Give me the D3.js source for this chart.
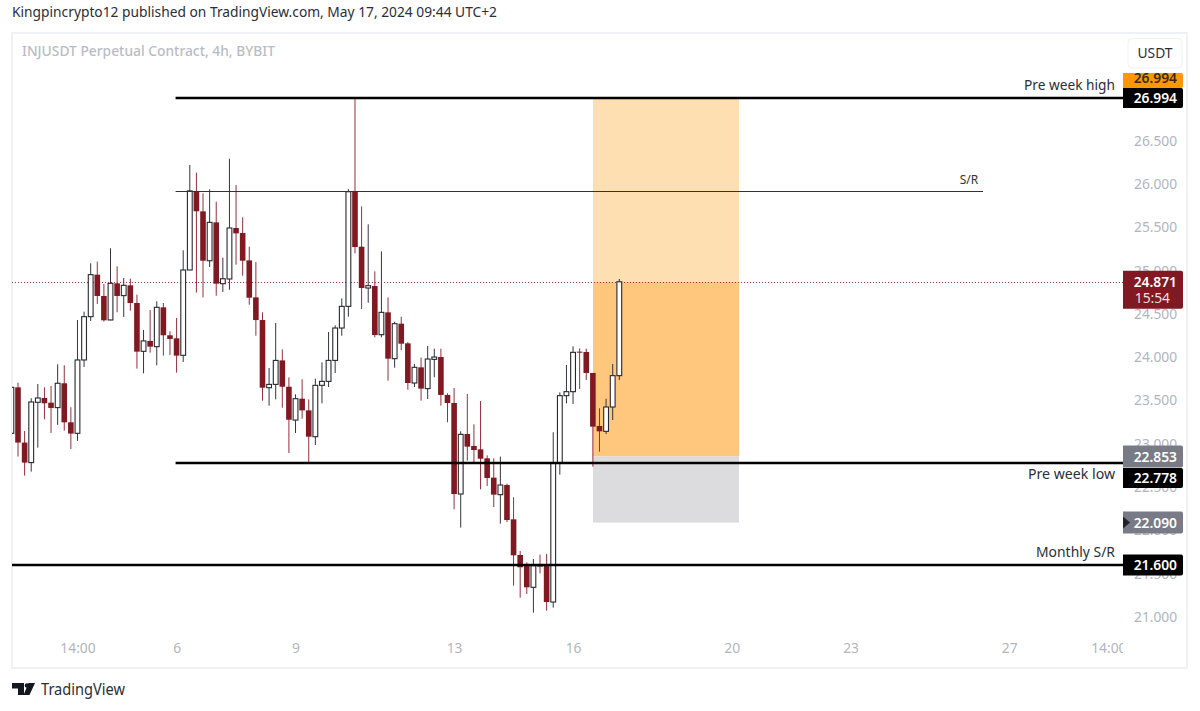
<!DOCTYPE html>
<html>
<head>
<meta charset="utf-8">
<script src="https://cdn.jsdelivr.net/npm/d3@7"></script>
<style>
  html, body { margin: 0; padding: 0; background: #fff; }
  svg { display: block; }
</style>
</head>
<body>
<script>
// 4h candles (first bar is cut by the left edge)
const opens = [23.121,23.652,23.014,22.783,23.479,23.529,23.475,23.418,23.699,23.248,23.121,23.968,24.468,24.953,24.707,24.430,24.853,24.711,24.830,24.626,24.068,24.188,24.122,24.576,24.253,24.218,24.022,25.007,25.920,25.684,25.114,25.557,24.849,24.903,25.492,25.434,25.118,24.691,24.429,23.648,23.686,23.963,23.659,23.274,23.521,23.386,23.082,23.675,23.721,23.963,24.337,24.587,25.911,25.276,24.799,24.822,24.260,24.518,23.983,24.387,24.160,23.702,23.883,23.637,23.975,24.002,23.564,23.471,22.420,23.113,22.975,22.936,22.832,22.609,22.413,22.524,22.128,21.716,21.593,21.343,21.605,21.597,21.173,22.782,23.556,23.602,24.064,24.060,23.818,23.206,23.144,23.425,23.787];
const highs = [23.652,23.706,23.148,23.526,23.691,23.652,23.668,23.918,23.907,23.422,24.430,24.526,25.084,25.104,24.846,25.258,25.050,24.915,24.907,24.723,24.315,24.545,24.646,24.626,24.299,24.453,25.234,26.220,26.131,25.892,25.938,25.796,25.149,26.292,25.988,25.615,25.276,25.099,24.518,23.875,24.395,24.090,23.767,23.571,23.744,23.513,23.752,23.940,24.291,24.368,24.679,25.942,26.994,25.742,25.534,24.991,25.222,24.691,24.410,24.468,24.175,23.922,23.995,24.129,24.099,24.099,23.583,23.644,23.144,23.575,23.225,23.494,22.867,22.832,22.852,22.540,22.382,21.762,21.631,21.670,21.720,21.728,23.133,23.594,23.910,24.126,24.102,24.099,23.818,23.410,23.521,23.922,24.903];
const lows = [23.121,22.852,22.633,22.679,22.956,23.283,23.125,23.218,23.152,22.940,23.033,23.887,24.418,24.615,24.411,24.426,24.519,24.465,24.538,23.868,23.814,24.053,23.907,24.018,24.026,23.822,23.945,25.007,24.746,24.691,25.041,24.710,24.753,24.779,25.068,24.941,24.606,24.248,23.498,23.440,23.513,23.417,22.893,23.124,23.290,22.782,22.986,23.467,23.656,23.817,24.248,24.468,25.199,24.556,24.629,24.229,24.229,23.729,23.879,24.083,23.625,23.656,23.498,23.517,23.768,23.440,23.248,22.243,22.032,22.805,22.786,22.474,22.513,22.270,22.078,22.097,21.362,21.223,21.266,21.050,21.504,21.073,21.108,22.644,23.467,23.460,23.633,23.737,22.736,22.909,23.113,23.275,23.737];
const closes = [23.652,23.014,22.783,23.483,23.529,23.468,23.414,23.699,23.248,23.118,23.968,24.468,24.953,24.707,24.426,24.853,24.707,24.830,24.626,24.064,24.188,24.122,24.576,24.253,24.211,24.018,25.007,25.920,25.685,25.114,25.557,24.849,24.906,25.492,25.430,25.114,24.687,24.429,23.648,23.686,23.963,23.659,23.278,23.521,23.386,23.082,23.675,23.721,23.963,24.337,24.587,25.911,25.272,24.799,24.826,24.256,24.518,23.983,24.387,24.156,23.702,23.883,23.637,23.979,24.002,23.564,23.471,22.420,23.109,22.967,22.928,22.828,22.605,22.413,22.524,22.120,21.712,21.574,21.343,21.593,21.581,21.173,22.782,23.556,23.602,24.056,24.052,23.818,23.198,23.144,23.425,23.787,24.871];

const priceTicks = [21,21.5,22,22.5,23,23.5,24,24.5,25,25.5,26,26.5,27];
const timeTickBars = [10,25,43,67,85,109,127,151,166];
const timeTickLabels = ["14:00","6","9","13","16","20","23","27","14:00"];

// drawn levels: price, first bar, last bar, caption
const levelPrices = [26.994,22.778,21.6];
const levelNames = ["Pre week high","Pre week low","Monthly S/R"];
const levelStartBars = [25,25,0];
const srPrice = 25.92;
const lastPrice = 24.871;
const countdown = "15:54";

// long position tool
const stopPrice = 22.09;
const entryPrice = 22.853;
const targetPrice = 26.994;

const width = 1200, height = 711;
const plot = {left: 12, right: 1123, top: 34, bottom: 667};
const font = "'Noto Sans', sans-serif";
const red = "#801922";
const axisGrey = "#b2b5be";
const fmt = d3.format(".3f");

const x = d3.scaleLinear().domain([1,92]).range([18,619.3]);
const y = d3.scaleLinear().domain([21,26]).range([617,184]);

const svg = d3.select("body").append("svg")
  .attr("width", width).attr("height", height)
  .attr("font-family", font);

const defs = svg.append("defs");
defs.append("clipPath").attr("id","plotClip")
  .append("rect")
  .attr("x", plot.left).attr("y", plot.top)
  .attr("width", plot.right - plot.left).attr("height", plot.bottom - plot.top);

svg.append("text").attr("x", 12).attr("y", 17)
  .attr("font-size", 13.5).attr("fill", "#2a2e39")
  .attr("textLength", 485).attr("lengthAdjust", "spacingAndGlyphs")
  .text("Kingpincrypto12 published on TradingView.com, May 17, 2024 09:44 UTC+2");

// frame
svg.append("rect")
  .attr("x", 12).attr("y", 33).attr("width", 1175).attr("height", 635)
  .attr("fill", "#fff").attr("stroke", "#eff1f4").attr("stroke-width", 2);

svg.append("text").attr("x", 22).attr("y", 56)
  .attr("font-size", 13.5).attr("font-weight", 500).attr("fill", "#b9bcc4")
  .attr("textLength", 253).attr("lengthAdjust", "spacingAndGlyphs")
  .text("INJUSDT Perpetual Contract, 4h, BYBIT");

// axes
const priceAxis = d3.axisRight(y)
  .tickValues(priceTicks)
  .tickSize(0).tickPadding(0)
  .tickFormat(fmt);
const yAxisG = svg.append("g").attr("transform", "translate(1134,0)").call(priceAxis);
yAxisG.select(".domain").remove();
yAxisG.selectAll("text").attr("font-size", 13.8).attr("font-family", font).attr("fill", axisGrey);

const timeAxis = d3.axisBottom(x)
  .tickValues(timeTickBars)
  .tickSize(0).tickPadding(0)
  .tickFormat((d,i) => timeTickLabels[i]);
const xAxisG = svg.append("g").attr("clip-path", "url(#plotClip)")
  .append("g").attr("transform", "translate(0,643)").call(timeAxis);
xAxisG.select(".domain").remove();
xAxisG.selectAll("text").attr("font-size", 13.8).attr("font-family", font).attr("fill", axisGrey);

const chart = svg.append("g").attr("clip-path", "url(#plotClip)");

// position box
const boxX0 = 593, boxX1 = 739;
chart.append("rect").attr("x", boxX0).attr("width", boxX1 - boxX0)
  .attr("y", y(targetPrice)).attr("height", y(lastPrice) - y(targetPrice)).attr("fill", "#fedfb2");
chart.append("rect").attr("x", boxX0).attr("width", boxX1 - boxX0)
  .attr("y", y(lastPrice)).attr("height", y(entryPrice) - y(lastPrice)).attr("fill", "#fec77d");
chart.append("rect").attr("x", boxX0).attr("width", boxX1 - boxX0)
  .attr("y", y(entryPrice)).attr("height", y(stopPrice) - y(entryPrice)).attr("fill", "#dcdcdf");

// last price line
chart.append("line")
  .attr("x1", plot.left).attr("x2", plot.right)
  .attr("y1", Math.round(y(lastPrice)) + 0.5).attr("y2", Math.round(y(lastPrice)) + 0.5)
  .attr("stroke", "#a8323f").attr("stroke-dasharray", "1 2");

// candles
const bars = d3.range(opens.length);
chart.append("g").selectAll("line").data(bars).join("line")
  .attr("x1", i => x(i)).attr("x2", i => x(i))
  .attr("y1", i => y(highs[i])).attr("y2", i => y(lows[i]))
  .attr("stroke", i => closes[i] >= opens[i] ? "#33363d" : "#94303c")
  .attr("stroke-width", 1);

chart.append("g").selectAll("rect").data(bars).join("rect")
  .attr("x", i => x(i) - (closes[i] >= opens[i] ? 2.4 : 2.8))
  .attr("width", i => closes[i] >= opens[i] ? 4.8 : 5.6)
  .attr("y", i => y(Math.max(opens[i], closes[i])))
  .attr("height", i => Math.abs(y(opens[i]) - y(closes[i])))
  .attr("fill", i => closes[i] >= opens[i] ? "#fff" : red)
  .attr("stroke", i => closes[i] >= opens[i] ? "#26282e" : "none")
  .attr("stroke-width", 1.1);

// S/R line
chart.append("line")
  .attr("x1", x(25) - 1).attr("x2", 983)
  .attr("y1", Math.round(y(srPrice)) + 0.5).attr("y2", Math.round(y(srPrice)) + 0.5)
  .attr("stroke", "#333").attr("stroke-width", 1);
svg.append("text").attr("x", 969).attr("y", 184)
  .attr("text-anchor", "middle").attr("font-size", 12).attr("fill", "#333")
  .text("S/R");

// level lines
chart.append("g").selectAll("line").data(levelPrices).join("line")
  .attr("x1", (d,i) => levelStartBars[i] ? x(levelStartBars[i]) - 1 : plot.left)
  .attr("x2", plot.right)
  .attr("y1", d => y(d)).attr("y2", d => y(d))
  .attr("stroke", "#000").attr("stroke-width", 2.5);

const levelTextDy = [-8, 16, -8];
const levelTextWidth = [91, 87, 79];
svg.append("g").selectAll("text").data(levelPrices).join("text")
  .attr("x", 1115)
  .attr("y", (d,i) => y(d) + levelTextDy[i])
  .attr("text-anchor", "end").attr("font-size", 13.8).attr("fill", "#2a2e39")
  .attr("textLength", (d,i) => levelTextWidth[i]).attr("lengthAdjust", "spacingAndGlyphs")
  .text((d,i) => levelNames[i]);

// price tags on the scale, drawn bottom to top in the order they overlap
function tagPath(top, bottom) {
  return `M1123,${top}H1181a2,2 0 0 1 2,2V${bottom - 2}a2,2 0 0 1 -2,2H1123Z`;
}
function tag(top, bottom, fill, color, label, dy = 5) {
  const id = "tag" + Math.round(top);
  defs.append("clipPath").attr("id", id).append("path").attr("d", tagPath(top, bottom));
  svg.append("path").attr("d", tagPath(top, bottom)).attr("fill", fill);
  svg.append("text")
    .attr("clip-path", `url(#${id})`)
    .attr("x", 1177).attr("y", (top + bottom) / 2 + dy)
    .attr("text-anchor", "end").attr("font-size", 13.8).attr("font-weight", 600)
    .attr("fill", color).text(label);
}

tag(y(targetPrice) - 25, y(targetPrice) - 10, "#ff9800", "#3a2a10", fmt(targetPrice), 3);
tag(y(targetPrice) - 10, y(targetPrice) + 10, "#000", "#fff", fmt(targetPrice));

svg.append("path")
  .attr("d", tagPath(y(lastPrice) - 11, y(lastPrice) + 27))
  .attr("fill", red);
svg.append("text").attr("x", 1177).attr("y", y(lastPrice) + 5)
  .attr("text-anchor", "end").attr("font-size", 13.8).attr("font-weight", 600).attr("fill", "#fff")
  .text(fmt(lastPrice));
svg.append("text").attr("x", 1170).attr("y", y(lastPrice) + 21)
  .attr("text-anchor", "end").attr("font-size", 13.8).attr("fill", "#f3dfe0")
  .text(countdown);

tag(y(entryPrice) - 11, y(entryPrice) + 11, "#787b86", "#fff", fmt(entryPrice));
tag(y(levelPrices[1]) + 5, y(levelPrices[1]) + 25, "#000", "#fff", fmt(levelPrices[1]));
tag(y(stopPrice) - 11, y(stopPrice) + 11, "#787b86", "#fff", fmt(stopPrice));
svg.append("path")
  .attr("d", `M1123,${y(stopPrice) - 6}L1130,${y(stopPrice)}L1123,${y(stopPrice) + 6}Z`)
  .attr("fill", "#1e222d");
tag(y(levelPrices[2]) - 10.5, y(levelPrices[2]) + 10.5, "#000", "#fff", fmt(levelPrices[2]));

// USDT button
svg.append("rect").attr("x", 1128).attr("y", 38.5).attr("width", 54).attr("height", 29.5)
  .attr("rx", 4).attr("fill", "#fff").attr("stroke", "#eff1f4");
svg.append("text").attr("x", 1155).attr("y", 58)
  .attr("text-anchor", "middle").attr("font-size", 13.8).attr("fill", "#2a2e39")
  .text("USDT");

// footer logo
svg.append("path")
  .attr("fill", "#131722")
  .attr("d", "M12,683H24V695H18V688.5H12Z M28.5,683H35L29.5,695H23.5Z");
svg.append("circle").attr("cx", 27).attr("cy", 685.5).attr("r", 2.3).attr("fill", "#131722");
svg.append("text").attr("x", 41).attr("y", 695)
  .attr("font-size", 15.5).attr("fill", "#2a2e39")
  .attr("textLength", 84).attr("lengthAdjust", "spacingAndGlyphs")
  .text("TradingView");
</script>
</body>
</html>
